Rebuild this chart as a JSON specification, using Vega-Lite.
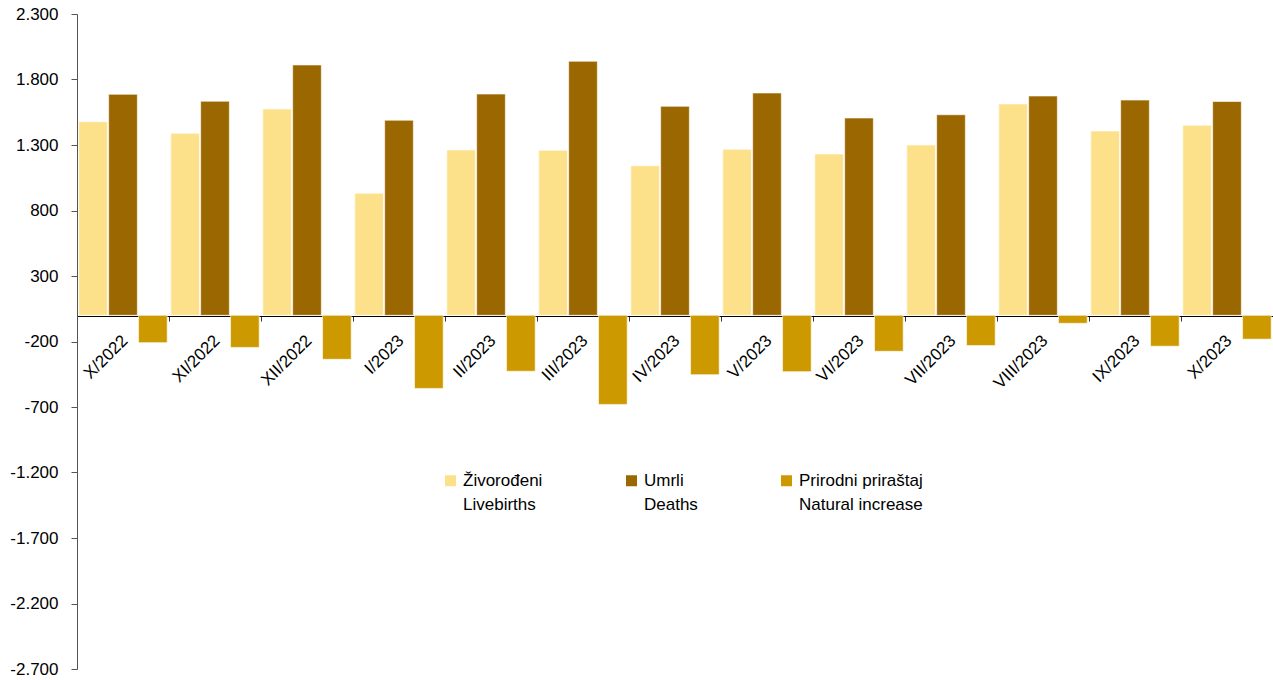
{
  "$schema": "https://vega.github.io/schema/vega-lite/v6.json",
  "width": 1196,
  "height": 655,
  "autosize": {"type": "none"},
  "padding": {"left": 77, "top": 14, "right": 0, "bottom": 11},
  "background": "white",
  "config": {
    "view": {"stroke": null},
    "font": "Liberation Sans",
    "style": {"guide-label": {"lineHeight": 24}}
  },
  "data": {
    "values": [
      {"month": "X/2022", "series": "Živorođeni|Livebirths", "value": 1478},
      {"month": "X/2022", "series": "Umrli|Deaths", "value": 1687},
      {"month": "X/2022", "series": "Prirodni priraštaj|Natural increase", "value": -209},
      {"month": "XI/2022", "series": "Živorođeni|Livebirths", "value": 1389},
      {"month": "XI/2022", "series": "Umrli|Deaths", "value": 1634},
      {"month": "XI/2022", "series": "Prirodni priraštaj|Natural increase", "value": -245},
      {"month": "XII/2022", "series": "Živorođeni|Livebirths", "value": 1575},
      {"month": "XII/2022", "series": "Umrli|Deaths", "value": 1911},
      {"month": "XII/2022", "series": "Prirodni priraštaj|Natural increase", "value": -336},
      {"month": "I/2023", "series": "Živorođeni|Livebirths", "value": 931},
      {"month": "I/2023", "series": "Umrli|Deaths", "value": 1489},
      {"month": "I/2023", "series": "Prirodni priraštaj|Natural increase", "value": -558},
      {"month": "II/2023", "series": "Živorođeni|Livebirths", "value": 1262},
      {"month": "II/2023", "series": "Umrli|Deaths", "value": 1689},
      {"month": "II/2023", "series": "Prirodni priraštaj|Natural increase", "value": -427},
      {"month": "III/2023", "series": "Živorođeni|Livebirths", "value": 1259},
      {"month": "III/2023", "series": "Umrli|Deaths", "value": 1939},
      {"month": "III/2023", "series": "Prirodni priraštaj|Natural increase", "value": -680},
      {"month": "IV/2023", "series": "Živorođeni|Livebirths", "value": 1142},
      {"month": "IV/2023", "series": "Umrli|Deaths", "value": 1595},
      {"month": "IV/2023", "series": "Prirodni priraštaj|Natural increase", "value": -453},
      {"month": "V/2023", "series": "Živorođeni|Livebirths", "value": 1267},
      {"month": "V/2023", "series": "Umrli|Deaths", "value": 1697},
      {"month": "V/2023", "series": "Prirodni priraštaj|Natural increase", "value": -430},
      {"month": "VI/2023", "series": "Živorođeni|Livebirths", "value": 1231},
      {"month": "VI/2023", "series": "Umrli|Deaths", "value": 1506},
      {"month": "VI/2023", "series": "Prirodni priraštaj|Natural increase", "value": -275},
      {"month": "VII/2023", "series": "Živorođeni|Livebirths", "value": 1300},
      {"month": "VII/2023", "series": "Umrli|Deaths", "value": 1531},
      {"month": "VII/2023", "series": "Prirodni priraštaj|Natural increase", "value": -231},
      {"month": "VIII/2023", "series": "Živorođeni|Livebirths", "value": 1613},
      {"month": "VIII/2023", "series": "Umrli|Deaths", "value": 1674},
      {"month": "VIII/2023", "series": "Prirodni priraštaj|Natural increase", "value": -61},
      {"month": "IX/2023", "series": "Živorođeni|Livebirths", "value": 1407},
      {"month": "IX/2023", "series": "Umrli|Deaths", "value": 1643},
      {"month": "IX/2023", "series": "Prirodni priraštaj|Natural increase", "value": -236},
      {"month": "X/2023", "series": "Živorođeni|Livebirths", "value": 1450},
      {"month": "X/2023", "series": "Umrli|Deaths", "value": 1632},
      {"month": "X/2023", "series": "Prirodni priraštaj|Natural increase", "value": -182}
    ]
  },
  "mark": {"type": "bar", "stroke": "white", "strokeWidth": 0.6},
  "encoding": {
    "x": {
      "field": "month",
      "type": "nominal",
      "sort": null,
      "scale": {"paddingInner": 0, "paddingOuter": 0},
      "axis": {
        "title": null,
        "offset": -353,
        "domainColor": "#000000",
        "domainWidth": 1.2,
        "tickBand": "extent",
        "tickColor": "#333333",
        "tickSize": 5,
        "labelAngle": -45,
        "labelAlign": "right",
        "labelBaseline": "top",
        "labelOffset": -4,
        "labelPadding": 11,
        "labelFontSize": 17,
        "labelColor": "#000000",
        "labelFont": "Liberation Sans"
      }
    },
    "xOffset": {
      "field": "series",
      "type": "nominal",
      "sort": ["Živorođeni|Livebirths", "Umrli|Deaths", "Prirodni priraštaj|Natural increase"],
      "scale": {"paddingInner": 0.04, "paddingOuter": 0.06}
    },
    "y": {
      "field": "value",
      "type": "quantitative",
      "scale": {"domain": [-2700, 2300], "nice": false, "zero": false},
      "axis": {
        "title": null,
        "values": [-2700, -2200, -1700, -1200, -700, -200, 300, 800, 1300, 1800, 2300],
        "grid": false,
        "domainColor": "#555555",
        "tickColor": "#555555",
        "tickSize": 6,
        "labelPadding": 13,
        "labelFontSize": 17,
        "labelColor": "#000000",
        "labelFont": "Liberation Sans",
        "labelExpr": "replace(replace(format(datum.value, ','), ',', '.'), '\u2212', '-')"
      }
    },
    "color": {
      "field": "series",
      "type": "nominal",
      "scale": {
        "domain": ["Živorođeni|Livebirths", "Umrli|Deaths", "Prirodni priraštaj|Natural increase"],
        "range": ["#FDE18A", "#9A6700", "#CC9900"]
      },
      "legend": {
        "title": null,
        "orient": "none",
        "legendX": 365,
        "legendY": 458,
        "direction": "horizontal",
        "columns": 3,
        "columnPadding": 80,
        "symbolType": "square",
        "symbolSize": 121,
        "symbolStrokeWidth": 0,
        "labelFontSize": 17,
        "labelFont": "Liberation Sans",
        "labelColor": "#000000",
        "labelOffset": 4,
        "labelLimit": 300,
        "labelExpr": "split(datum.label, '|')"
      }
    }
  }
}
